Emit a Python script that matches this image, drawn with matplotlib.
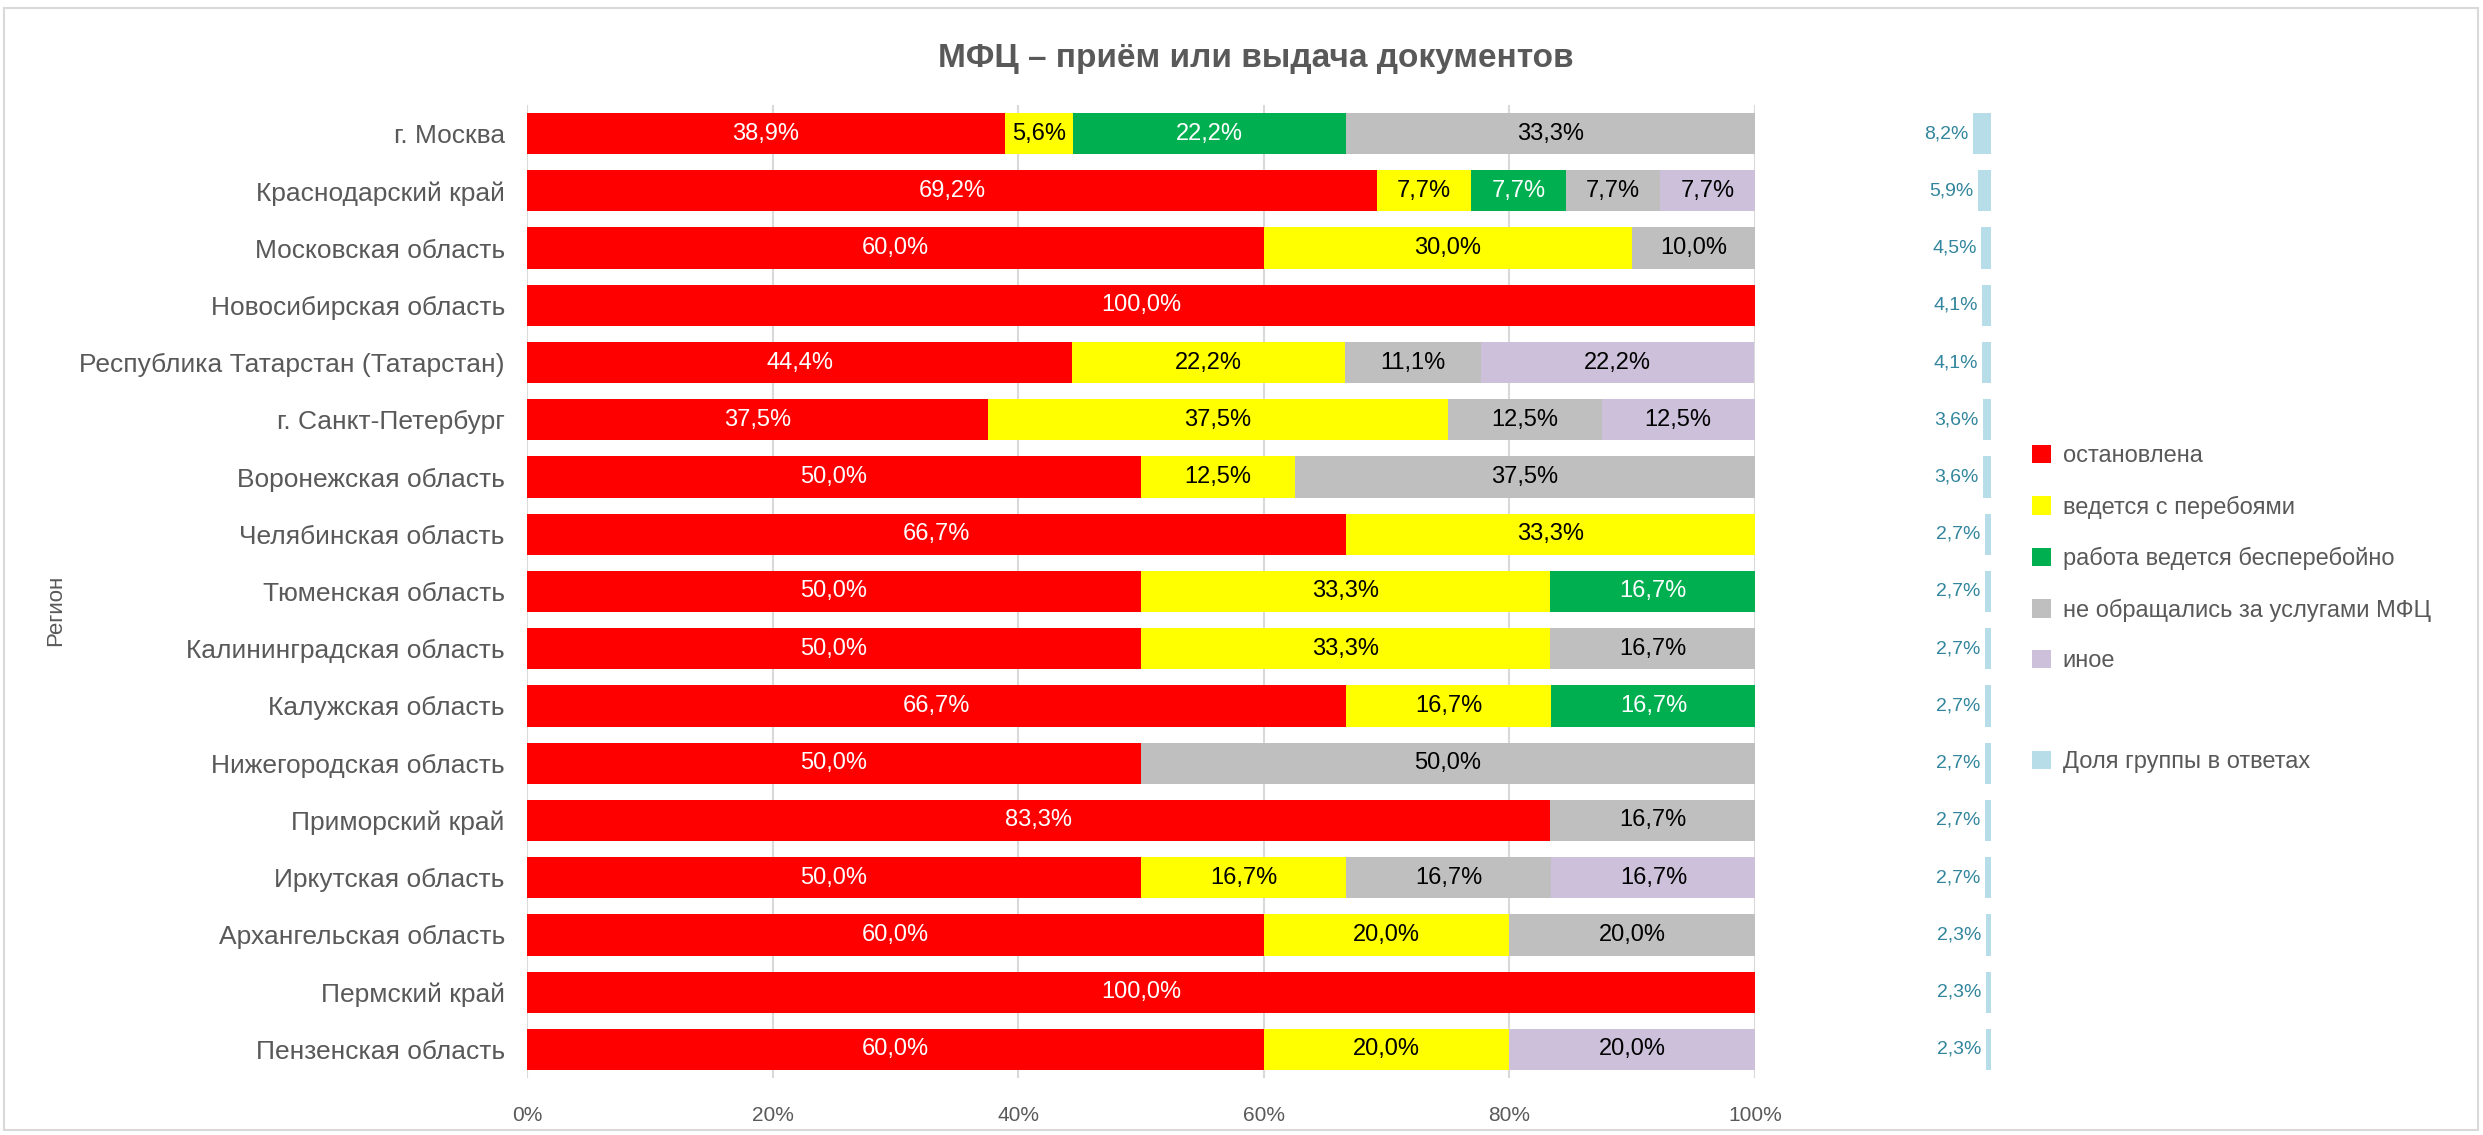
import numpy as np
import matplotlib
matplotlib.use("Agg")
import matplotlib.pyplot as plt
from matplotlib.patches import Patch, Rectangle

# Data
regions = [
    "г. Москва",
    "Краснодарский край",
    "Московская область",
    "Новосибирская область",
    "Республика Татарстан (Татарстан)",
    "г. Санкт-Петербург",
    "Воронежская область",
    "Челябинская область",
    "Тюменская область",
    "Калининградская область",
    "Калужская область",
    "Нижегородская область",
    "Приморский край",
    "Иркутская область",
    "Архангельская область",
    "Пермский край",
    "Пензенская область",
]

stopped = [38.9, 69.2, 60.0, 100.0, 44.4, 37.5, 50.0, 66.7, 50.0, 50.0, 66.7, 50.0, 83.3, 50.0, 60.0, 100.0, 60.0]
interrupted = [5.6, 7.7, 30.0, 0, 22.2, 37.5, 12.5, 33.3, 33.3, 33.3, 16.7, 0, 0, 16.7, 20.0, 0, 20.0]
smooth = [22.2, 7.7, 0, 0, 0, 0, 0, 0, 16.7, 0, 16.7, 0, 0, 0, 0, 0, 0]
not_used = [33.3, 7.7, 10.0, 0, 11.1, 12.5, 37.5, 0, 0, 16.7, 0, 50.0, 16.7, 16.7, 20.0, 0, 0]
other = [0, 7.7, 0, 0, 22.2, 12.5, 0, 0, 0, 0, 0, 0, 0, 16.7, 0, 0, 20.0]

share = [8.2, 5.9, 4.5, 4.1, 4.1, 3.6, 3.6, 2.7, 2.7, 2.7, 2.7, 2.7, 2.7, 2.7, 2.3, 2.3, 2.3]

series_names = ["остановлена", "ведется с перебоями", "работа ведется бесперебойно",
                "не обращались за услугами МФЦ", "иное"]
share_name = "Доля группы в ответах"

colors = ["#FF0000", "#FFFF00", "#00B050", "#BFBFBF", "#CCC0DA"]
label_colors = ["white", "black", "white", "black", "black"]
share_color = "#B7DEE8"
text_gray = "#595959"

plt.rcParams["font.family"] = ["Liberation Sans", "DejaVu Sans"]

fig = plt.figure(figsize=(24.83, 11.35), dpi=100)

# Chart border
fig.patches.append(Rectangle((4 / 2483, 5 / 1135), 2474 / 2483, 1122 / 1135,
                             transform=fig.transFigure, fill=False,
                             edgecolor="#D9D9D9", linewidth=1.5))

ax = fig.add_axes([527 / 2483, 57 / 1135, 1228 / 2483, 973 / 1135])

y = np.arange(len(regions))
left = np.zeros(len(regions))
all_series = [stopped, interrupted, smooth, not_used, other]

for vals, col, lcol in zip(all_series, colors, label_colors):
    vals = np.array(vals, dtype=float)
    ax.barh(y, vals, left=left, height=0.72, color=col, zorder=3)
    for yi, (l, v) in enumerate(zip(left, vals)):
        if v > 0:
            ax.text(l + v / 2, yi, f"{v:.1f}%".replace(".", ","),
                    ha="center", va="center", color=lcol, fontsize=17, zorder=4)
    left += vals

ax.set_xlim(0, 100)
ax.set_ylim(len(regions) - 0.5, -0.5)
ax.set_xticks(np.arange(0, 101, 20))
ax.set_xticklabels([f"{t}%" for t in range(0, 101, 20)])
ax.set_yticks(y)
ax.set_yticklabels(regions)
ax.tick_params(axis="y", length=0, pad=16, labelsize=19, labelcolor=text_gray)
ax.tick_params(axis="x", length=0, pad=20, labelsize=15, labelcolor=text_gray)
ax.grid(axis="x", color="#D9D9D9", linewidth=1.5, zorder=0)
for s in ax.spines.values():
    s.set_visible(False)
ax.set_ylabel("Регион", fontsize=16, color=text_gray)
ax.yaxis.set_label_coords(-0.375, 0.481)

# Share of group in answers
ax2 = fig.add_axes([1771 / 2483, 57 / 1135, 220 / 2483, 973 / 1135])
ax2.barh(y, np.array(share) / 100, height=0.72, color=share_color)
for yi, v in enumerate(share):
    ax2.text(v / 100 + 0.02, yi, f"{v:.1f}%".replace(".", ","),
             ha="right", va="center", color="#31859C", fontsize=14)
ax2.set_xlim(1.0, 0)
ax2.set_ylim(len(regions) - 0.5, -0.5)
ax2.axis("off")

# Legend
handles = [Patch(facecolor=c) for c in colors]
handles.append(Patch(facecolor="none", edgecolor="none"))
handles.append(Patch(facecolor=share_color))
labels = series_names + [" ", share_name]
fig.legend(handles, labels, loc="upper left", bbox_to_anchor=(2032 / 2483, (1135 - 445) / 1135),
           frameon=False, fontsize=17, labelcolor=text_gray, handlelength=0.8,
           handleheight=0.8, handletextpad=0.5, labelspacing=1.2,
           borderpad=0, borderaxespad=0)

fig.text(1256 / 2483, (1135 - 58) / 1135, "МФЦ – приём или выдача документов",
         ha="center", va="center", fontsize=24, fontweight="bold", color=text_gray)

fig.savefig("out.png", dpi=100)
